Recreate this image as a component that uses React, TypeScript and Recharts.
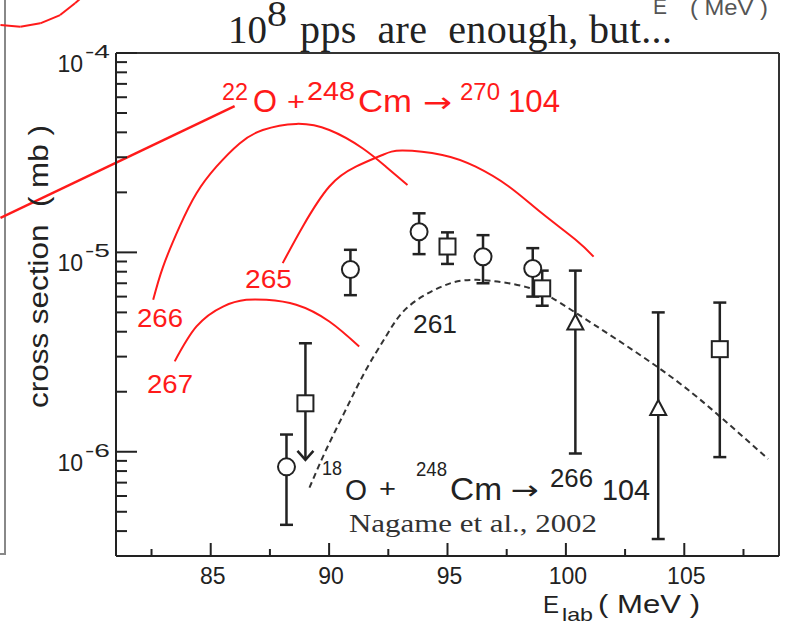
import React from "react";
import { ComposedChart, Line, Scatter, XAxis, YAxis, ErrorBar, ReferenceLine } from "recharts";

// axis ticks
const X_MAJOR = [85, 90, 95, 100, 105];
const X_MINOR = [82.5, 87.5, 92.5, 97.5, 102.5, 107.5];
const Y_MAJOR = [1e-6, 1e-5, 1e-4];
const Y_MINOR = [
  4e-7, 5e-7, 6e-7, 7e-7, 8e-7, 9e-7,
  2e-6, 3e-6, 4e-6, 5e-6, 6e-6, 7e-6, 8e-6, 9e-6,
  2e-5, 3e-5, 4e-5, 5e-5, 6e-5, 7e-5, 8e-5, 9e-5,
];

// Nagame et al., 2002 (18O + 248Cm) - circles
const circleE = [88.2, 90.9, 93.8, 96.5, 98.6];
const circleSigma = [8.4e-7, 8.2e-6, 1.27e-5, 9.5e-6, 8.3e-6];
const circleHi = [1.22e-6, 1.03e-5, 1.57e-5, 1.22e-5, 1.05e-5];
const circleLo = [4.3e-7, 6.1e-6, 9.8e-6, 7.0e-6, 6.0e-6];

// squares
const squareE = [95.0, 99.0, 106.5];
const squareSigma = [1.07e-5, 6.6e-6, 3.27e-6];
const squareHi = [1.26e-5, 8.1e-6, 5.6e-6];
const squareLo = [8.75e-6, 5.4e-6, 9.4e-7];

// triangles
const triangleE = [100.4, 103.9];
const triangleSigma = [4.4e-6, 1.64e-6];
const triangleHi = [8.1e-6, 5.0e-6];
const triangleLo = [9.8e-7, 3.65e-7];

// square with an upper-limit arrow
const limitE = [89.0];
const limitSigma = [1.75e-6];
const limitHi = [3.5e-6];
const limitArrow = [9.1e-7];

// dashed calculation (261)
const calcE = [89.17, 89.87, 90.71, 91.56, 92.4, 93.29, 94.73, 96.24, 98.43, 100.41, 103.91, 106.43, 108.54];
const calcSigma = [6.6e-7, 1.02e-6, 1.63e-6, 2.58e-6, 3.79e-6, 5.27e-6, 6.72e-6, 7.28e-6, 6.64e-6, 4.98e-6, 2.64e-6, 1.53e-6, 9.2e-7];

// 22O + 248Cm predictions
const e266 = [82.57, 82.99, 83.69, 84.4, 85.24, 86.22, 87.2, 88.61, 90.01, 91.41, 92.4, 93.31];
const s266 = [5.78e-6, 8.49e-6, 1.35e-5, 1.98e-5, 2.69e-5, 3.52e-5, 4.11e-5, 4.41e-5, 4.11e-5, 3.33e-5, 2.69e-5, 2.18e-5];
const e265 = [88.04, 88.89, 90.01, 91.13, 92.25, 93.1, 94.78, 96.19, 97.59, 98.99, 100.4, 101.17];
const s265 = [8.83e-6, 1.35e-5, 2.14e-5, 2.69e-5, 3.08e-5, 3.24e-5, 3.08e-5, 2.69e-5, 2.14e-5, 1.57e-5, 1.16e-5, 9.52e-6];
const e267 = [83.48, 84.4, 85.52, 86.5, 87.35, 88.61, 90.01, 91.27];
const s267 = [2.84e-6, 4.25e-6, 5.35e-6, 5.78e-6, 5.78e-6, 5.46e-6, 4.5e-6, 3.37e-6];

// leftovers of the neighbouring figure on the slide
const strayLineE = [76.12, 86.01];
const strayLineSigma = [1.49e-5, 5.42e-5];
const strayCurveE = [76.12, 76.96, 77.8, 78.64, 79.27, 79.8];
const strayCurveSigma = [1.381e-4, 1.355e-4, 1.409e-4, 1.55e-4, 1.775e-4, 2.02e-4];

const RED = "#ff1a1a";
const INK = "#222";
const SANS = "'Liberation Sans', Arial, Helvetica, sans-serif";
const SERIF = "'Liberation Serif', 'Times New Roman', serif";
const ARROW = "'DejaVu Sans', sans-serif";

const pts = (xs: number[], ys: number[]) => xs.map((x, i) => ({ x, y: ys[i] }));
const withErr = (xs: number[], ys: number[], lo: number[], hi: number[]) =>
  xs.map((x, i) => ({ x, y: ys[i], err: [ys[i] - lo[i], hi[i] - ys[i]] }));

const circles = withErr(circleE, circleSigma, circleLo, circleHi);
const squares = withErr(squareE, squareSigma, squareLo, squareHi);
const triangles = withErr(triangleE, triangleSigma, triangleLo, triangleHi);
const limitSquare = withErr(limitE, limitSigma, limitSigma, limitHi);
const limitTip = withErr(limitE, limitArrow, limitArrow, limitSigma);

const isMajorY = (v: number) => Math.abs(Math.log10(v) - Math.round(Math.log10(v))) < 1e-6;

const YTick = (props: any) => {
  const { x, y, payload } = props;
  const v = payload.value;
  const major = isMajorY(v);
  return (
    <g>
      <line x1={x} x2={x + (major ? 21 : 11)} y1={y} y2={y} stroke={INK} strokeWidth={2} />
      {major && (
        <>
          <text x={x - 33} y={y + 19} textAnchor="end" fontSize={23} fontFamily={SANS} fill={INK}>10</text>
          <text x={x - 31} y={y + 5} fontSize={18} fontFamily={SANS} fill={INK} textLength={25} lengthAdjust="spacingAndGlyphs">
            {Math.round(Math.log10(v))}
          </text>
        </>
      )}
    </g>
  );
};

const XTick = (props: any) => {
  const { x, y, payload } = props;
  const major = X_MAJOR.includes(payload.value);
  return (
    <g>
      <line x1={x} x2={x} y1={y} y2={y - (major ? 13 : 7)} stroke={INK} strokeWidth={2} />
      {major && (
        <text x={x + 2} y={y + 28} textAnchor="middle" fontSize={23} fontFamily={SANS} fill={INK}>
          {payload.value}
        </text>
      )}
    </g>
  );
};

const sym = { fill: "#fff", stroke: INK, strokeWidth: 2 };
const CircleShape = (p: any) => <circle cx={p.cx} cy={p.cy} r={8.5} {...sym} />;
const SquareShape = (p: any) => <rect x={p.cx - 8} y={p.cy - 8} width={16} height={16} {...sym} />;
const TriangleShape = (p: any) => (
  <polygon points={`${p.cx},${p.cy - 9} ${p.cx - 8},${p.cy + 6} ${p.cx + 8},${p.cy + 6}`} {...sym} />
);
const ArrowShape = (p: any) => (
  <path d={`M${p.cx - 8},${p.cy - 9} L${p.cx},${p.cy} L${p.cx + 8},${p.cy - 9}`} fill="none" stroke={INK} strokeWidth={2.5} />
);

const T = (props: any) => <text fontFamily={SANS} {...props} />;

export default function App() {
  const strayLine = pts(strayLineE, strayLineSigma);
  const strayCurve = pts(strayCurveE, strayCurveSigma);
  return (
    <div style={{ position: "absolute", left: 0, top: 0, width: 785, height: 623, background: "#fff", overflow: "hidden" }}>
      {/* edge of the neighbouring panel */}
      <div style={{ position: "absolute", left: -10, top: -10, width: 14, height: 563, borderRight: "2px solid #888", borderBottom: "2px solid #888" }} />
      <ComposedChart width={785} height={623} margin={{ top: 53, right: 6, bottom: 0, left: 0 }}>
        <XAxis
          type="number"
          dataKey="x"
          domain={[81, 109]}
          allowDataOverflow
          ticks={[...X_MAJOR, ...X_MINOR].sort((a, b) => a - b)}
          interval={0}
          tick={<XTick />}
          tickLine={false}
          tickSize={0}
          tickMargin={0}
          height={67}
          axisLine={{ stroke: INK, strokeWidth: 2 }}
        />
        <YAxis
          type="number"
          dataKey="y"
          scale="log"
          domain={[3e-7, 1e-4]}
          allowDataOverflow
          ticks={[...Y_MINOR, ...Y_MAJOR].sort((a, b) => a - b)}
          interval={0}
          tick={<YTick />}
          tickLine={false}
          tickSize={0}
          tickMargin={0}
          width={116}
          axisLine={{ stroke: INK, strokeWidth: 2 }}
        />
        <ReferenceLine y={1e-4} stroke="#333" strokeWidth={2} />
        <ReferenceLine x={109} stroke="#333" strokeWidth={2} />
        {strayLine.slice(1).map((p, i) => (
          <ReferenceLine key={`sl${i}`} segment={[strayLine[i], p]} ifOverflow="visible" stroke={RED} strokeWidth={2.5} />
        ))}
        {strayCurve.slice(1).map((p, i) => (
          <ReferenceLine key={`sc${i}`} segment={[strayCurve[i], p]} ifOverflow="visible" stroke={RED} strokeWidth={2} />
        ))}
        <Line data={pts(e266, s266)} dataKey="y" type="natural" dot={false} stroke={RED} strokeWidth={2} isAnimationActive={false} />
        <Line data={pts(e265, s265)} dataKey="y" type="natural" dot={false} stroke={RED} strokeWidth={2} isAnimationActive={false} />
        <Line data={pts(e267, s267)} dataKey="y" type="natural" dot={false} stroke={RED} strokeWidth={2} isAnimationActive={false} />
        <Line data={pts(calcE, calcSigma)} dataKey="y" type="natural" dot={false} stroke="#333" strokeWidth={2} strokeDasharray="6 4" isAnimationActive={false} />
        <Scatter data={limitTip} dataKey="y" shape={ArrowShape} isAnimationActive={false}>
          <ErrorBar dataKey="err" direction="y" width={0} stroke={INK} strokeWidth={2.5} isAnimationActive={false} />
        </Scatter>
        <Scatter data={limitSquare} dataKey="y" shape={SquareShape} isAnimationActive={false}>
          <ErrorBar dataKey="err" direction="y" width={6.5} stroke={INK} strokeWidth={2.5} isAnimationActive={false} />
        </Scatter>
        <Scatter data={triangles} dataKey="y" shape={TriangleShape} isAnimationActive={false}>
          <ErrorBar dataKey="err" direction="y" width={6.5} stroke={INK} strokeWidth={2.5} isAnimationActive={false} />
        </Scatter>
        <Scatter data={squares} dataKey="y" shape={SquareShape} isAnimationActive={false}>
          <ErrorBar dataKey="err" direction="y" width={6.5} stroke={INK} strokeWidth={2.5} isAnimationActive={false} />
        </Scatter>
        <Scatter data={circles} dataKey="y" shape={CircleShape} isAnimationActive={false}>
          <ErrorBar dataKey="err" direction="y" width={6.5} stroke={INK} strokeWidth={2.5} isAnimationActive={false} />
        </Scatter>
      </ComposedChart>

      <svg width={785} height={623} style={{ position: "absolute", left: 0, top: 0, pointerEvents: "none" }}>
        {/* title */}
        <text x={228} y={43} fontFamily={SERIF} fontSize={40} fill={INK} textLength={39} lengthAdjust="spacingAndGlyphs">10</text>
        <text x={267} y={26} fontFamily={SERIF} fontSize={36} fill={INK} textLength={20} lengthAdjust="spacingAndGlyphs">8</text>
        <text x={300} y={43} fontFamily={SERIF} fontSize={40} fill={INK} textLength={372} lengthAdjust="spacing" style={{ whiteSpace: "pre" }}>
          {"pps  are  enough, but..."}
        </text>
        <T x={653} y={14} fontSize={22} fill="#555" textLength={14} lengthAdjust="spacingAndGlyphs">E</T>
        <T x={690} y={15} fontSize={22} fill="#555" textLength={78} lengthAdjust="spacingAndGlyphs" style={{ whiteSpace: "pre" }}>{"( MeV )"}</T>

        {/* axis titles */}
        <T x={48} y={408} transform="rotate(-90 48 408)" fontSize={27} fill={INK} textLength={283} lengthAdjust="spacingAndGlyphs" style={{ whiteSpace: "pre" }}>
          {"cross section  ( mb )"}
        </T>
        <T x={543} y={613} fontSize={24} fill={INK}>E</T>
        <T x={562} y={621} fontSize={19} fill={INK} textLength={31} lengthAdjust="spacingAndGlyphs">lab</T>
        <T x={598} y={613} fontSize={25} fill={INK} textLength={102} lengthAdjust="spacingAndGlyphs" style={{ whiteSpace: "pre" }}>{"( MeV )"}</T>

        {/* 22O + 248Cm -> 270 104 */}
        <T x={222} y={100} fontSize={24} fill={RED} textLength={26} lengthAdjust="spacingAndGlyphs">22</T>
        <T x={253} y={112} fontSize={31} fill={RED} textLength={24} lengthAdjust="spacingAndGlyphs">O</T>
        <T x={287} y={110} fontSize={26} fill={RED} textLength={18} lengthAdjust="spacingAndGlyphs">+</T>
        <T x={307} y={100} fontSize={26} fill={RED} textLength={48} lengthAdjust="spacingAndGlyphs">248</T>
        <T x={358} y={112} fontSize={32} fill={RED} textLength={54} lengthAdjust="spacingAndGlyphs">Cm</T>
        <text x={423} y={112} fontFamily={ARROW} fontSize={28} fill={RED} textLength={29} lengthAdjust="spacingAndGlyphs">→</text>
        <T x={460} y={100} fontSize={24} fill={RED} textLength={40} lengthAdjust="spacingAndGlyphs">270</T>
        <T x={508} y={112} fontSize={31} fill={RED} textLength={52} lengthAdjust="spacingAndGlyphs">104</T>

        <T x={137} y={327} fontSize={26} fill={RED} textLength={46} lengthAdjust="spacingAndGlyphs">266</T>
        <T x={245} y={288} fontSize={26} fill={RED} textLength={47} lengthAdjust="spacingAndGlyphs">265</T>
        <T x={147} y={393} fontSize={26} fill={RED} textLength={46} lengthAdjust="spacingAndGlyphs">267</T>
        <T x={413} y={333} fontSize={26} fill={INK} textLength={44} lengthAdjust="spacingAndGlyphs">261</T>

        {/* 18O + 248Cm -> 266 104 */}
        <T x={322} y={475} fontSize={20} fill={INK} textLength={20} lengthAdjust="spacingAndGlyphs">18</T>
        <T x={345} y={500} fontSize={30} fill={INK} textLength={22} lengthAdjust="spacingAndGlyphs">O</T>
        <T x={379} y={497} fontSize={26} fill={INK} textLength={17} lengthAdjust="spacingAndGlyphs">+</T>
        <T x={416} y={476} fontSize={21} fill={INK} textLength={31} lengthAdjust="spacingAndGlyphs">248</T>
        <T x={450} y={500} fontSize={31} fill={INK} textLength={52} lengthAdjust="spacingAndGlyphs">Cm</T>
        <text x={511} y={499} fontFamily={ARROW} fontSize={26} fill={INK} textLength={28} lengthAdjust="spacingAndGlyphs">→</text>
        <T x={550} y={487} fontSize={26} fill={INK} textLength={43} lengthAdjust="spacingAndGlyphs">266</T>
        <T x={602} y={500} fontSize={30} fill={INK} textLength={48} lengthAdjust="spacingAndGlyphs">104</T>
        <text x={349} y={532} fontFamily={SERIF} fontSize={26} fill="#333" textLength={248} lengthAdjust="spacingAndGlyphs">
          Nagame et al., 2002
        </text>
      </svg>
    </div>
  );
}
